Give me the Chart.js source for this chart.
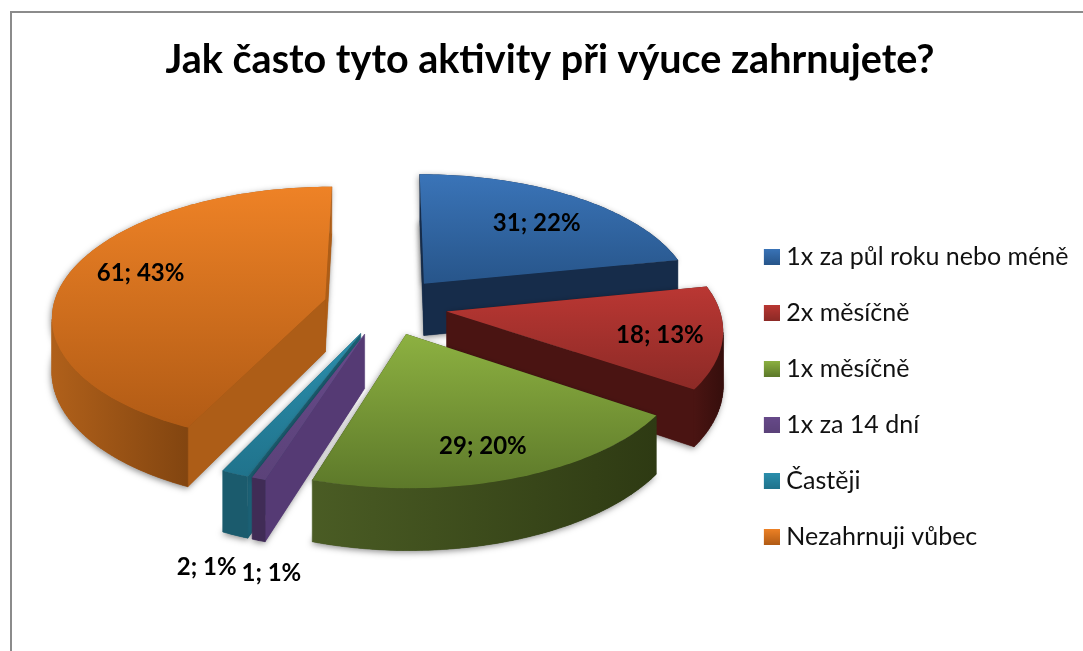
<!DOCTYPE html>
<html><head><meta charset="utf-8">
<style>html,body{margin:0;padding:0;background:#fff}canvas{display:block}</style>
<script src="https://cdn.jsdelivr.net/npm/chart.js@4"></script>
</head><body>
<canvas id="c" width="1083" height="651"></canvas>
<script>
const titleText = 'Jak často tyto aktivity při výuce zahrnujete?';
const categories = ['1x za půl roku nebo méně','2x měsíčně','1x měsíčně','1x za 14 dní','Častěji','Nezahrnuji vůbec'];
const values = [31,18,29,1,2,61];
const topLight = ['#3a74b8','#ba3733','#8db141','#674a8a','#2b8fad','#ee8226'];
const topDark  = ['#27558a','#8c2a26','#5d792a','#5b4279','#20738c','#b15b15'];
const radialWall = ['#162c4a','#4a1412','#2e3a13','#553a74','#1b6074','#ad5d17'];
const arcWallLeft  = ['#162c4a','#4a1412','#4a5c24','#402c56','#1b5b6d','#b0601a'];
const arcWallRight = ['#162c4a','#360e0c','#2e3a13','#402c56','#1b5b6d','#824510'];
const labelReach = [0.73,0.73,0.73,1.1,1.1,0.73];
const labelNudge = [[0,4],[13,5],[2,10],[25,15],[-14,15],[3,-6]];

const view = {explode:62, tilt:0.47, persp:0.00045, depth:53, shiftX:8.25, shiftY:-91};

function project(el,u,v,z){
  const w = 1/(1-v*view.persp);
  return [el.x+view.shiftX+u*w, el.y+view.shiftY+(v*view.tilt+z)*w];
}
// Collects the outline that the library's own arc element draws.
function outline(el){
  const pts=[];
  const rec=new Proxy({},{
    get(_,k){
      if(k==='arc') return (x,y,r,a0,a1,ccw)=>{
        let d=a1-a0; const n=Math.max(2,Math.ceil(Math.abs(d)/0.02));
        for(let i=0;i<=n;i++){const a=a0+d*i/n;pts.push([x+r*Math.cos(a),y+r*Math.sin(a)]);}
      };
      if(k==='lineTo'||k==='moveTo') return (x,y)=>pts.push([x,y]);
      return ()=>{};
    },
    set(){return true;}
  });
  el.draw(rec);
  return pts;
}
function trace(ctx,pts){ctx.beginPath();pts.forEach((p,i)=>i?ctx.lineTo(p[0],p[1]):ctx.moveTo(p[0],p[1]));ctx.closePath();}

const pie3d={
  id:'pie3d',
  beforeDraw(chart){
    const ctx=chart.ctx;ctx.save();
    ctx.strokeStyle='#8b8b8b';ctx.lineWidth=2;
    ctx.beginPath();ctx.moveTo(11,660);ctx.lineTo(11,12);ctx.lineTo(1090,12);ctx.stroke();
    ctx.restore();
  },
  beforeDatasetsDraw(chart){
    const ctx=chart.ctx, arcs=chart.getDatasetMeta(0).data;
    const order=arcs.map((el,i)=>i).sort((a,b)=>{
      const m=i=>(arcs[i].startAngle+arcs[i].endAngle)/2;
      return Math.sin(m(a))-Math.sin(m(b));
    });
    ctx.save();
    for(const i of order){
      const el=arcs[i], mid=(el.startAngle+el.endAngle)/2;
      const ex=Math.cos(mid)*view.explode, ey=Math.sin(mid)*view.explode;
      const world=outline(el).map(p=>[p[0]-el.x+ex,p[1]-el.y+ey]);
      const isApex=p=>Math.hypot(p[0]-ex,p[1]-ey)<1;
      const top=world.map(p=>project(el,p[0],p[1],0));
      const bot=world.map(p=>project(el,p[0],p[1],view.depth));
      const ys=top.map(p=>p[1]);
      const minY=Math.min(...ys),maxY=Math.max(...ys);
      // soft shadow
      ctx.save();
      ctx.shadowColor='rgba(0,0,0,0.45)';ctx.shadowBlur=6;ctx.shadowOffsetX=-1;ctx.shadowOffsetY=2;
      ctx.fillStyle=radialWall[i];
      trace(ctx,bot);ctx.fill();trace(ctx,top);ctx.fill();
      ctx.restore();
      // walls
      const arcPath=[];
      for(let k=0;k<world.length;k++){
        const n=(k+1)%world.length;
        const dx=top[n][0]-top[k][0], dy=top[n][1]-top[k][1];
        if(dx>=0||Math.hypot(dx,dy)<1e-6) continue;
        const quad=[top[k],top[n],bot[n],bot[k]];
        if(isApex(world[k])||isApex(world[n])){
          ctx.fillStyle=radialWall[i];ctx.strokeStyle=radialWall[i];ctx.lineWidth=0.5;
          trace(ctx,quad);ctx.fill();ctx.stroke();
        } else arcPath.push(quad);
      }
      if(arcPath.length){
        const ax=arcPath.flat().map(p=>p[0]);
        const g=ctx.createLinearGradient(Math.min(...ax),0,Math.max(...ax),0);
        g.addColorStop(0,arcWallLeft[i]);g.addColorStop(1,arcWallRight[i]);
        ctx.fillStyle=g;ctx.strokeStyle=g;ctx.lineWidth=0.6;
        ctx.beginPath();
        arcPath.forEach(q=>{q.forEach((p,j)=>j?ctx.lineTo(p[0],p[1]):ctx.moveTo(p[0],p[1]));ctx.closePath();});
        ctx.fill();ctx.stroke();
      }
      // top face
      const g=ctx.createLinearGradient(0,minY,0,maxY);
      g.addColorStop(0,topLight[i]);g.addColorStop(1,topDark[i]);
      ctx.fillStyle=g;trace(ctx,top);ctx.fill();
    }
    // value labels
    const total=values.reduce((a,b)=>a+b,0);
    ctx.fillStyle='#000';ctx.textAlign='center';ctx.textBaseline='middle';
    ctx.font='bold 24px Lato';
    arcs.forEach((el,i)=>{
      const mid=(el.startAngle+el.endAngle)/2, rho=el.outerRadius*labelReach[i];
      const u=Math.cos(mid)*(view.explode+rho), v=Math.sin(mid)*(view.explode+rho);
      const p=project(el,u,v,labelReach[i]>1?view.depth:0);
      ctx.fillText(values[i]+'; '+Math.round(values[i]/total*100)+'%',p[0]+labelNudge[i][0],p[1]+labelNudge[i][1]);
    });
    ctx.restore();
    return false;
  }
};
function swatch(i){
  const c=document.createElement('canvas');c.width=22;c.height=16;
  const x=c.getContext('2d'),g=x.createLinearGradient(0,0,0,16);
  g.addColorStop(0,topLight[i]);g.addColorStop(1,topDark[i]);
  x.fillStyle=g;x.fillRect(6,0,16,16);return c;
}
new Chart(document.getElementById('c'),{
  type:'pie',
  data:{labels:categories,datasets:[{data:values,backgroundColor:topLight,borderWidth:0}]},
  plugins:[pie3d],
  options:{
    responsive:false,animation:false,radius:272,rotation:0,
    layout:{padding:{left:21.5,right:4.5,top:0,bottom:0}},
    plugins:{
      tooltip:{enabled:false},
      title:{display:true,text:titleText,color:'#000',font:{family:'Lato',size:39.5,weight:'bold'},padding:{top:37,bottom:58}},
      legend:{position:'right',fullSize:false,labels:{
        color:'#111',font:{family:'Lato',size:25},padding:31,boxWidth:16,boxHeight:16,usePointStyle:true,pointStyleWidth:10,
        generateLabels(chart){return categories.map((t,i)=>({text:t,pointStyle:swatch(i),fontColor:'#111',index:i,lineWidth:0,fillStyle:topLight[i],strokeStyle:'transparent'}));}
      }}
    }
  }
});
</script>
</body></html>
